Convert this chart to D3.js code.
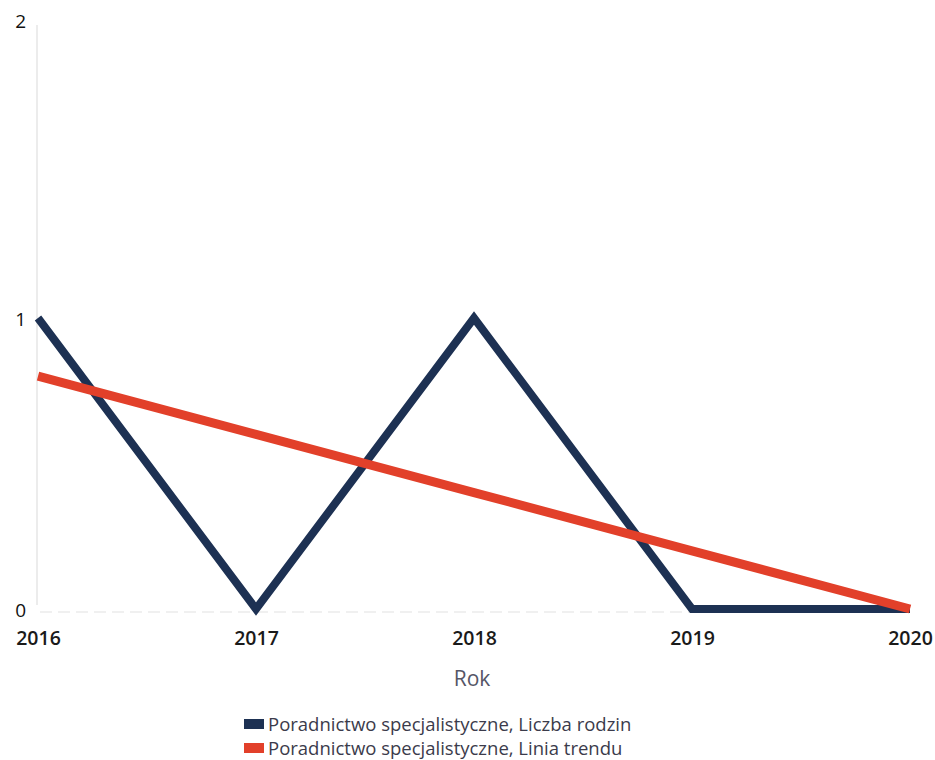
<!DOCTYPE html>
<html><head><meta charset="utf-8">
<script src="https://cdn.jsdelivr.net/npm/d3@7"></script>
<style>body{margin:0;background:#fff;} svg{display:block;font-family:"Open Sans",sans-serif;}</style>
</head><body>
<svg id="c" width="935" height="760"></svg>
<script>
const years = [2016, 2017, 2018, 2019, 2020];
const families = [1, 0, 1, 0, 0];
const trend = [0.8, 0.6, 0.4, 0.2, 0];
const yTicks = [0, 1, 2];
const legendLabels = ["Poradnictwo specjalistyczne, Liczba rodzin", "Poradnictwo specjalistyczne, Linia trendu"];
const colors = ["#1d3153", "#e2402a"];

const svg = d3.select("#c");
const x = d3.scaleLinear().domain([2016, 2020]).range([38, 910]);
const y = d3.scaleLinear().domain([0, 2]).range([609, 27]);

// y axis line
svg.append("line").attr("x1", 37).attr("x2", 37).attr("y1", y(2) - 2).attr("y2", y(0) - 4)
  .attr("stroke", "#ececec").attr("stroke-width", 2);
// baseline
svg.append("line").attr("x1", 40).attr("x2", 910).attr("y1", y(0) + 3).attr("y2", y(0) + 3)
  .attr("stroke", "#f0f0f0").attr("stroke-width", 2).attr("stroke-dasharray", "12,6");

const yAxis = d3.axisLeft(y).tickValues(yTicks).tickFormat(d3.format("d")).tickSize(0).tickPadding(0);
const gy = svg.append("g").attr("transform", "translate(26,0)").call(yAxis);
gy.select(".domain").remove();
gy.selectAll("text").attr("font-size", 19).attr("fill", "#111").attr("font-family", "Open Sans");
const yDy = {2: "0.05em", 1: "0.37em", 0: "0.4em"};
gy.selectAll(".tick text").attr("dy", d => yDy[d]);

const xAxis = d3.axisBottom(x).tickValues(years).tickFormat(d3.format("d")).tickSize(0).tickPadding(0);
const gx = svg.append("g").attr("transform", "translate(0,631)").call(xAxis);
gx.select(".domain").remove();
gx.selectAll("text").attr("font-size", 19.5).attr("font-weight", 600).attr("fill", "#1a1a1a").attr("font-family", "Open Sans");

svg.append("text").attr("x", 472).attr("y", 686).attr("text-anchor", "middle")
  .attr("font-size", 21).attr("fill", "#555566").text("Rok");

const line = d3.line().x((d, i) => x(years[i])).y(d => y(d));
svg.append("path").datum(families).attr("d", line).attr("fill", "none")
  .attr("stroke", colors[0]).attr("stroke-width", 8).attr("stroke-linejoin", "miter");
svg.append("path").datum(trend).attr("d", line).attr("fill", "none")
  .attr("stroke", colors[1]).attr("stroke-width", 9);

const lg = svg.append("g");
legendLabels.forEach((t, i) => {
  const base = 731 + i * 24;
  lg.append("rect").attr("x", 244).attr("y", base - 12).attr("width", 20).attr("height", 10).attr("fill", colors[i]);
  lg.append("text").attr("x", 268).attr("y", base).attr("font-size", 18.5).attr("fill", "#3b3b4b").text(t);
});
</script>
</body></html>
